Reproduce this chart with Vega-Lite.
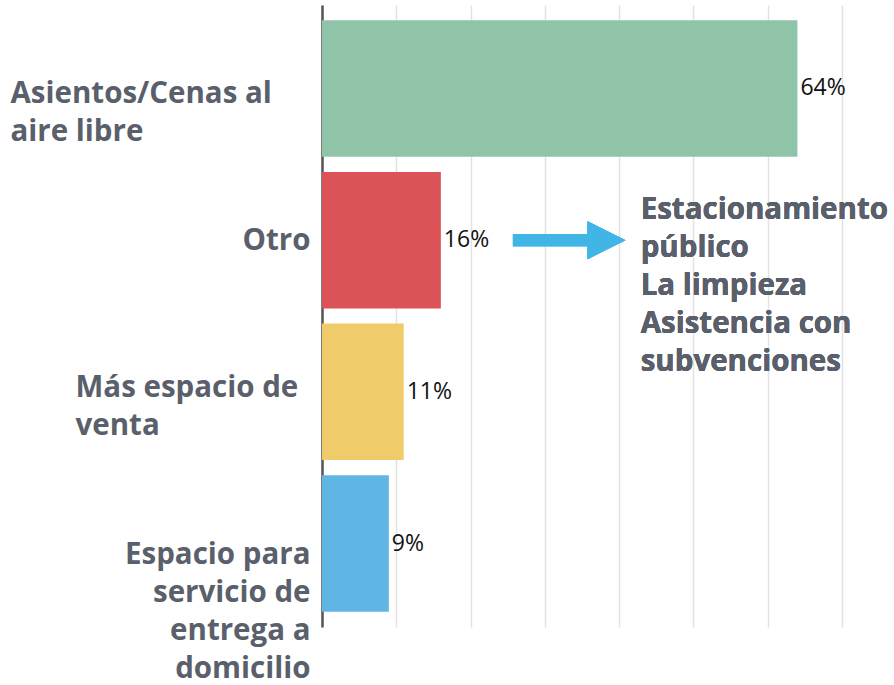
{
  "$schema": "https://vega.github.io/schema/vega-lite/v6.json",
  "width": 520,
  "height": 622,
  "autosize": {"type": "none"},
  "padding": {"left": 322, "top": 5, "right": 52, "bottom": 58},
  "background": "white",
  "config": {"view": {"stroke": null}},
  "data": {
    "values": [
      {"cat": "Asientos/Cenas al aire libre", "value": 64, "label": "64%"},
      {"cat": "Otro", "value": 16, "label": "16%"},
      {"cat": "Más espacio de venta", "value": 11, "label": "11%"},
      {"cat": "Espacio para servicio de entrega a domicilio", "value": 9, "label": "9%"}
    ]
  },
  "encoding": {
    "y": {
      "field": "cat",
      "type": "nominal",
      "sort": null,
      "scale": {"paddingInner": 0.1, "paddingOuter": 0.1},
      "axis": {
        "title": null,
        "ticks": false,
        "tickSize": 0,
        "grid": false,
        "domain": true,
        "domainColor": "#555555",
        "domainWidth": 2.5,
        "labelFont": "Open Sans",
        "labelFontWeight": "bold",
        "labelFontSize": 29.5,
        "labelColor": "#5a606b",
        "labelLineHeight": 38,
        "labelLimit": 400,
        "labelExpr": "datum.value == 'Asientos/Cenas al aire libre' ? ['Asientos/Cenas al', 'aire libre'] : datum.value == 'Más espacio de venta' ? ['Más espacio de', 'venta'] : datum.value == 'Espacio para servicio de entrega a domicilio' ? ['Espacio para', 'servicio de', 'entrega a', 'domicilio'] : datum.value",
        "labelAlign": {"condition": {"test": "datum.value == 'Asientos/Cenas al aire libre' || datum.value == 'Más espacio de venta'", "value": "left"}, "value": "right"},
        "labelPadding": {"condition": [
          {"test": "datum.value == 'Asientos/Cenas al aire libre'", "value": 312},
          {"test": "datum.value == 'Más espacio de venta'", "value": 247}
        ], "value": 12},
        "labelOffset": {"condition": [
          {"test": "datum.value == 'Asientos/Cenas al aire libre'", "value": 6},
          {"test": "datum.value == 'Más espacio de venta'", "value": -4},
          {"test": "datum.value == 'Espacio para servicio de entrega a domicilio'", "value": 11}
        ], "value": 1}
      }
    }
  },
  "layer": [
    {
      "mark": {"type": "bar"},
      "encoding": {
        "x": {
          "field": "value",
          "type": "quantitative",
          "scale": {"domain": [0, 70], "nice": false},
          "axis": {
            "title": null,
            "labels": false,
            "ticks": false,
            "domain": false,
            "grid": true,
            "gridColor": "#e2e2e2",
            "gridWidth": 1.5,
            "values": [0, 10, 20, 30, 40, 50, 60, 70]
          }
        },
        "color": {
          "field": "cat",
          "type": "nominal",
          "legend": null,
          "scale": {
            "domain": ["Asientos/Cenas al aire libre", "Otro", "Más espacio de venta", "Espacio para servicio de entrega a domicilio"],
            "range": ["#8fc4a8", "#dc5357", "#f0cb6a", "#5fb6e4"]
          }
        }
      }
    },
    {
      "mark": {"type": "text", "align": "left", "baseline": "middle", "dx": 3, "font": "Open Sans", "fontSize": 23, "color": "#111111"},
      "encoding": {
        "x": {"field": "value", "type": "quantitative"},
        "text": {"field": "label"}
      }
    },
    {
      "mark": {"type": "rule", "color": "#41b6e6", "strokeWidth": 12},
      "encoding": {
        "x": {"datum": 25.7},
        "x2": {"datum": 36.8},
        "y": {"datum": "Otro"}
      }
    },
    {
      "mark": {"type": "point", "shape": "M-1,-1L1,0L-1,1Z", "filled": true, "opacity": 1, "color": "#41b6e6", "size": 1444},
      "encoding": {
        "x": {"datum": 38.3},
        "y": {"datum": "Otro"}
      }
    },
    {
      "mark": {
        "type": "text",
        "align": "left",
        "baseline": "middle",
        "font": "Open Sans",
        "fontWeight": "bold",
        "fontSize": 29.5,
        "lineHeight": 38,
        "color": "#5a606b",
        "dy": -30,
        "text": ["Estacionamiento", "público", "La limpieza", "Asistencia con", "subvenciones"]
      },
      "encoding": {
        "x": {"datum": 42.9},
        "y": {"datum": "Otro"}
      }
    }
  ]
}
